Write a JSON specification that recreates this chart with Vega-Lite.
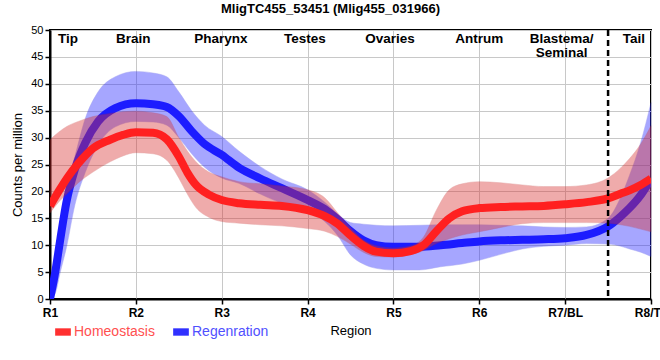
{
  "$schema": "https://vega.github.io/schema/vega-lite/v6.json",
  "width": 601,
  "height": 269,
  "autosize": {"type": "none"},
  "padding": {"left": 50, "top": 30, "right": 9, "bottom": 61},
  "background": "white",
  "config": {
    "font": "Liberation Sans",
    "view": {"stroke": "black", "strokeWidth": 2},
    "axis": {"gridColor": "#c8c8c8", "gridWidth": 1, "domainColor": "black", "domainWidth": 2, "tickColor": "black", "tickWidth": 1.5, "tickSize": 5, "labelColor": "black", "titleColor": "black", "titleFontWeight": "normal"}
  },
  "title": {"text": "MligTC455_53451 (Mlig455_031966)", "fontSize": 13, "fontWeight": "bold", "anchor": "middle", "frame": "group", "dx": -20, "offset": 8, "color": "black"},
  "datasets": {
    "curves": [
      {"x": 1.00, "s": "Homeostasis", "y": 17.3, "lo": 16.0, "hi": 29.6},
      {"x": 1.10, "s": "Homeostasis", "y": 20.0, "lo": 18.0, "hi": 31.0},
      {"x": 1.20, "s": "Homeostasis", "y": 22.5, "lo": 19.6, "hi": 32.1},
      {"x": 1.33, "s": "Homeostasis", "y": 25.2, "lo": 21.6, "hi": 33.0},
      {"x": 1.50, "s": "Homeostasis", "y": 28.0, "lo": 23.6, "hi": 33.9},
      {"x": 1.70, "s": "Homeostasis", "y": 29.6, "lo": 25.5, "hi": 34.5},
      {"x": 1.85, "s": "Homeostasis", "y": 30.5, "lo": 26.6, "hi": 34.8},
      {"x": 2.00, "s": "Homeostasis", "y": 31.0, "lo": 27.2, "hi": 34.9},
      {"x": 2.20, "s": "Homeostasis", "y": 30.9, "lo": 27.0, "hi": 34.6},
      {"x": 2.36, "s": "Homeostasis", "y": 29.7, "lo": 25.8, "hi": 33.9},
      {"x": 2.50, "s": "Homeostasis", "y": 26.5, "lo": 22.5, "hi": 30.0},
      {"x": 2.60, "s": "Homeostasis", "y": 23.5, "lo": 19.5, "hi": 27.5},
      {"x": 2.70, "s": "Homeostasis", "y": 21.2, "lo": 17.0, "hi": 25.5},
      {"x": 2.85, "s": "Homeostasis", "y": 19.4, "lo": 15.2, "hi": 23.6},
      {"x": 3.00, "s": "Homeostasis", "y": 18.4, "lo": 14.4, "hi": 22.7},
      {"x": 3.20, "s": "Homeostasis", "y": 17.8, "lo": 14.1, "hi": 21.8},
      {"x": 3.45, "s": "Homeostasis", "y": 17.5, "lo": 13.8, "hi": 21.4},
      {"x": 3.70, "s": "Homeostasis", "y": 17.3, "lo": 13.6, "hi": 21.0},
      {"x": 4.00, "s": "Homeostasis", "y": 16.5, "lo": 13.1, "hi": 20.3},
      {"x": 4.20, "s": "Homeostasis", "y": 15.4, "lo": 12.6, "hi": 18.8},
      {"x": 4.35, "s": "Homeostasis", "y": 14.0, "lo": 11.6, "hi": 16.0},
      {"x": 4.50, "s": "Homeostasis", "y": 11.8, "lo": 10.2, "hi": 13.3},
      {"x": 4.65, "s": "Homeostasis", "y": 9.9, "lo": 8.7, "hi": 11.0},
      {"x": 4.80, "s": "Homeostasis", "y": 8.8, "lo": 7.9, "hi": 9.9},
      {"x": 5.00, "s": "Homeostasis", "y": 8.5, "lo": 7.8, "hi": 9.5},
      {"x": 5.20, "s": "Homeostasis", "y": 8.9, "lo": 8.3, "hi": 9.9},
      {"x": 5.35, "s": "Homeostasis", "y": 10.0, "lo": 9.0, "hi": 11.5},
      {"x": 5.50, "s": "Homeostasis", "y": 12.6, "lo": 10.3, "hi": 16.5},
      {"x": 5.65, "s": "Homeostasis", "y": 15.0, "lo": 11.2, "hi": 20.3},
      {"x": 5.80, "s": "Homeostasis", "y": 16.3, "lo": 11.9, "hi": 21.4},
      {"x": 6.00, "s": "Homeostasis", "y": 16.9, "lo": 12.5, "hi": 21.8},
      {"x": 6.25, "s": "Homeostasis", "y": 17.1, "lo": 13.3, "hi": 21.6},
      {"x": 6.50, "s": "Homeostasis", "y": 17.2, "lo": 14.0, "hi": 21.2},
      {"x": 6.75, "s": "Homeostasis", "y": 17.3, "lo": 14.2, "hi": 20.9},
      {"x": 7.00, "s": "Homeostasis", "y": 17.6, "lo": 14.2, "hi": 20.9},
      {"x": 7.25, "s": "Homeostasis", "y": 18.0, "lo": 14.2, "hi": 21.2},
      {"x": 7.50, "s": "Homeostasis", "y": 18.7, "lo": 14.1, "hi": 22.5},
      {"x": 7.65, "s": "Homeostasis", "y": 19.6, "lo": 13.8, "hi": 24.4},
      {"x": 7.75, "s": "Homeostasis", "y": 20.2, "lo": 13.5, "hi": 26.1},
      {"x": 7.88, "s": "Homeostasis", "y": 21.2, "lo": 13.0, "hi": 28.8},
      {"x": 8.00, "s": "Homeostasis", "y": 22.4, "lo": 12.5, "hi": 32.2},
      {"x": 1.00, "s": "Regenration", "y": 0.0, "lo": 0.0, "hi": 1.0},
      {"x": 1.06, "s": "Regenration", "y": 4.9, "lo": 1.0, "hi": 7.0},
      {"x": 1.12, "s": "Regenration", "y": 11.1, "lo": 5.0, "hi": 14.0},
      {"x": 1.19, "s": "Regenration", "y": 17.9, "lo": 9.5, "hi": 20.5},
      {"x": 1.29, "s": "Regenration", "y": 24.1, "lo": 17.5, "hi": 26.5},
      {"x": 1.41, "s": "Regenration", "y": 29.0, "lo": 23.5, "hi": 33.5},
      {"x": 1.56, "s": "Regenration", "y": 33.0, "lo": 28.6, "hi": 38.5},
      {"x": 1.76, "s": "Regenration", "y": 35.5, "lo": 32.0, "hi": 41.3},
      {"x": 2.00, "s": "Regenration", "y": 36.4, "lo": 33.0, "hi": 42.3},
      {"x": 2.20, "s": "Regenration", "y": 36.2, "lo": 32.9, "hi": 42.0},
      {"x": 2.36, "s": "Regenration", "y": 35.7, "lo": 32.3, "hi": 41.3},
      {"x": 2.50, "s": "Regenration", "y": 34.0, "lo": 30.0, "hi": 38.5},
      {"x": 2.65, "s": "Regenration", "y": 31.2, "lo": 27.0, "hi": 35.0},
      {"x": 2.80, "s": "Regenration", "y": 28.8, "lo": 24.5, "hi": 32.3},
      {"x": 3.00, "s": "Regenration", "y": 26.8, "lo": 22.5, "hi": 30.2},
      {"x": 3.20, "s": "Regenration", "y": 24.4, "lo": 21.5, "hi": 27.5},
      {"x": 3.45, "s": "Regenration", "y": 22.4, "lo": 19.5, "hi": 24.6},
      {"x": 3.70, "s": "Regenration", "y": 20.6, "lo": 17.8, "hi": 22.3},
      {"x": 4.00, "s": "Regenration", "y": 18.4, "lo": 16.5, "hi": 20.3},
      {"x": 4.20, "s": "Regenration", "y": 16.7, "lo": 14.4, "hi": 18.0},
      {"x": 4.35, "s": "Regenration", "y": 14.8, "lo": 11.8, "hi": 15.8},
      {"x": 4.50, "s": "Regenration", "y": 12.6, "lo": 8.2, "hi": 14.2},
      {"x": 4.65, "s": "Regenration", "y": 10.9, "lo": 6.5, "hi": 13.9},
      {"x": 4.80, "s": "Regenration", "y": 10.0, "lo": 5.7, "hi": 13.7},
      {"x": 5.00, "s": "Regenration", "y": 9.7, "lo": 5.4, "hi": 13.6},
      {"x": 5.30, "s": "Regenration", "y": 9.7, "lo": 5.4, "hi": 13.7},
      {"x": 5.55, "s": "Regenration", "y": 10.0, "lo": 6.0, "hi": 13.8},
      {"x": 5.80, "s": "Regenration", "y": 10.4, "lo": 6.5, "hi": 13.8},
      {"x": 6.00, "s": "Regenration", "y": 10.7, "lo": 7.2, "hi": 13.8},
      {"x": 6.25, "s": "Regenration", "y": 10.9, "lo": 8.3, "hi": 13.7},
      {"x": 6.50, "s": "Regenration", "y": 11.0, "lo": 9.3, "hi": 13.6},
      {"x": 6.75, "s": "Regenration", "y": 11.1, "lo": 9.8, "hi": 13.4},
      {"x": 7.00, "s": "Regenration", "y": 11.3, "lo": 10.0, "hi": 13.3},
      {"x": 7.25, "s": "Regenration", "y": 11.9, "lo": 10.3, "hi": 13.4},
      {"x": 7.50, "s": "Regenration", "y": 13.5, "lo": 10.2, "hi": 15.0},
      {"x": 7.65, "s": "Regenration", "y": 15.4, "lo": 9.8, "hi": 19.0},
      {"x": 7.75, "s": "Regenration", "y": 16.9, "lo": 9.3, "hi": 23.0},
      {"x": 7.88, "s": "Regenration", "y": 19.3, "lo": 8.7, "hi": 29.1},
      {"x": 8.00, "s": "Regenration", "y": 22.3, "lo": 7.9, "hi": 36.5}
    ],
    "labels": [
      {"x": 1.21, "y": 49.6, "label": "Tip"},
      {"x": 1.97, "y": 49.6, "label": "Brain"},
      {"x": 2.99, "y": 49.6, "label": "Pharynx"},
      {"x": 3.97, "y": 49.6, "label": "Testes"},
      {"x": 4.96, "y": 49.6, "label": "Ovaries"},
      {"x": 6.0, "y": 49.6, "label": "Antrum"},
      {"x": 6.96, "y": 49.6, "label": "Blastema/\nSeminal"},
      {"x": 7.8, "y": 49.6, "label": "Tail"}
    ],
    "divider": [{"x": 7.5}]
  },
  "encoding": {
    "x": {"field": "x", "type": "quantitative", "scale": {"domain": [1, 8], "nice": false, "zero": false},
      "axis": {"values": [1, 2, 3, 4, 5, 6, 7, 8], "labelExpr": "['R1','R2','R3','R4','R5','R6','R7/BL','R8/TL'][datum.value - 1]", "labelFontWeight": "bold", "labelFontSize": 12, "labelPadding": 3, "labelFlush": false, "labelOverlap": false, "title": "Region", "titleFontSize": 13, "titlePadding": 6}}
  },
  "layer": [
    {
      "data": {"name": "curves"},
      "transform": [{"filter": "datum.s === 'Regenration'"}],
      "mark": {"type": "area", "interpolate": "monotone", "color": "#2424ff", "opacity": 0.4, "stroke": "#2020e0", "strokeWidth": 0.8, "strokeOpacity": 0.6},
      "encoding": {
        "y": {"field": "lo", "type": "quantitative", "scale": {"domain": [0, 50], "nice": false},
          "axis": {"values": [0, 5, 10, 15, 20, 25, 30, 35, 40, 45, 50], "labelFontSize": 11, "labelPadding": 2, "title": "Counts per million", "titleFontSize": 13, "titlePadding": 6}},
        "y2": {"field": "hi"}
      }
    },
    {
      "data": {"name": "curves"},
      "transform": [{"filter": "datum.s === 'Regenration'"}],
      "mark": {"type": "line", "interpolate": "monotone", "strokeWidth": 8, "strokeCap": "butt", "clip": true},
      "encoding": {
        "y": {"field": "y", "type": "quantitative",
          "axis": {"values": [0, 5, 10, 15, 20, 25, 30, 35, 40, 45, 50], "labelFontSize": 11, "labelPadding": 2, "title": "Counts per million", "titleFontSize": 13, "titlePadding": 6}},
        "color": {"field": "s", "type": "nominal", "scale": {"domain": ["Homeostasis", "Regenration"], "range": ["#ff2020", "#1c1cff"]},
          "legend": {"orient": "none", "legendX": 5, "legendY": 294, "direction": "horizontal", "title": null, "padding": 0, "columnPadding": 18, "labelFontSize": 14, "labelOffset": 3, "symbolType": "M-1,-0.47H1V0.47H-1Z", "symbolSize": 246, "symbolStrokeWidth": 0,
            "encode": {
              "symbols": {"update": {"fill": {"signal": "datum.value === 'Homeostasis' ? '#ff3030' : '#3030ff'"}, "stroke": {"value": "transparent"}, "opacity": {"value": 1}, "shape": {"value": "M-1,-0.47H1V0.47H-1Z"}, "size": {"value": 246}}},
              "labels": {"update": {"fill": {"signal": "datum.value === 'Homeostasis' ? '#ff5050' : '#5050ff'"}, "fontSize": {"value": 14}}}
            }}}
      }
    },
    {
      "data": {"name": "curves"},
      "transform": [{"filter": "datum.s === 'Homeostasis'"}],
      "mark": {"type": "area", "interpolate": "monotone", "color": "#d83030", "opacity": 0.4, "stroke": "#c02020", "strokeWidth": 0.8, "strokeOpacity": 0.6},
      "encoding": {
        "y": {"field": "lo", "type": "quantitative",
          "axis": {"values": [0, 5, 10, 15, 20, 25, 30, 35, 40, 45, 50], "labelFontSize": 11, "labelPadding": 2, "title": "Counts per million", "titleFontSize": 13, "titlePadding": 6}},
        "y2": {"field": "hi"}
      }
    },
    {
      "data": {"name": "curves"},
      "transform": [{"filter": "datum.s === 'Homeostasis'"}],
      "mark": {"type": "line", "interpolate": "monotone", "strokeWidth": 8, "strokeCap": "butt", "clip": true},
      "encoding": {
        "y": {"field": "y", "type": "quantitative",
          "axis": {"values": [0, 5, 10, 15, 20, 25, 30, 35, 40, 45, 50], "labelFontSize": 11, "labelPadding": 2, "title": "Counts per million", "titleFontSize": 13, "titlePadding": 6}},
        "color": {"field": "s", "type": "nominal"}
      }
    },
    {
      "data": {"name": "divider"},
      "mark": {"type": "rule", "color": "black", "strokeWidth": 2.5, "strokeDash": [6, 4]},
      "encoding": {"x": {"field": "x", "type": "quantitative"}}
    },
    {
      "data": {"name": "labels"},
      "mark": {"type": "text", "fontWeight": "bold", "fontSize": 13.5, "baseline": "top", "align": "center", "color": "black", "lineHeight": 14, "lineBreak": "\n"},
      "encoding": {
        "y": {"field": "y", "type": "quantitative",
          "axis": {"values": [0, 5, 10, 15, 20, 25, 30, 35, 40, 45, 50], "labelFontSize": 11, "labelPadding": 2, "title": "Counts per million", "titleFontSize": 13, "titlePadding": 6}},
        "text": {"field": "label"}
      }
    }
  ]
}
